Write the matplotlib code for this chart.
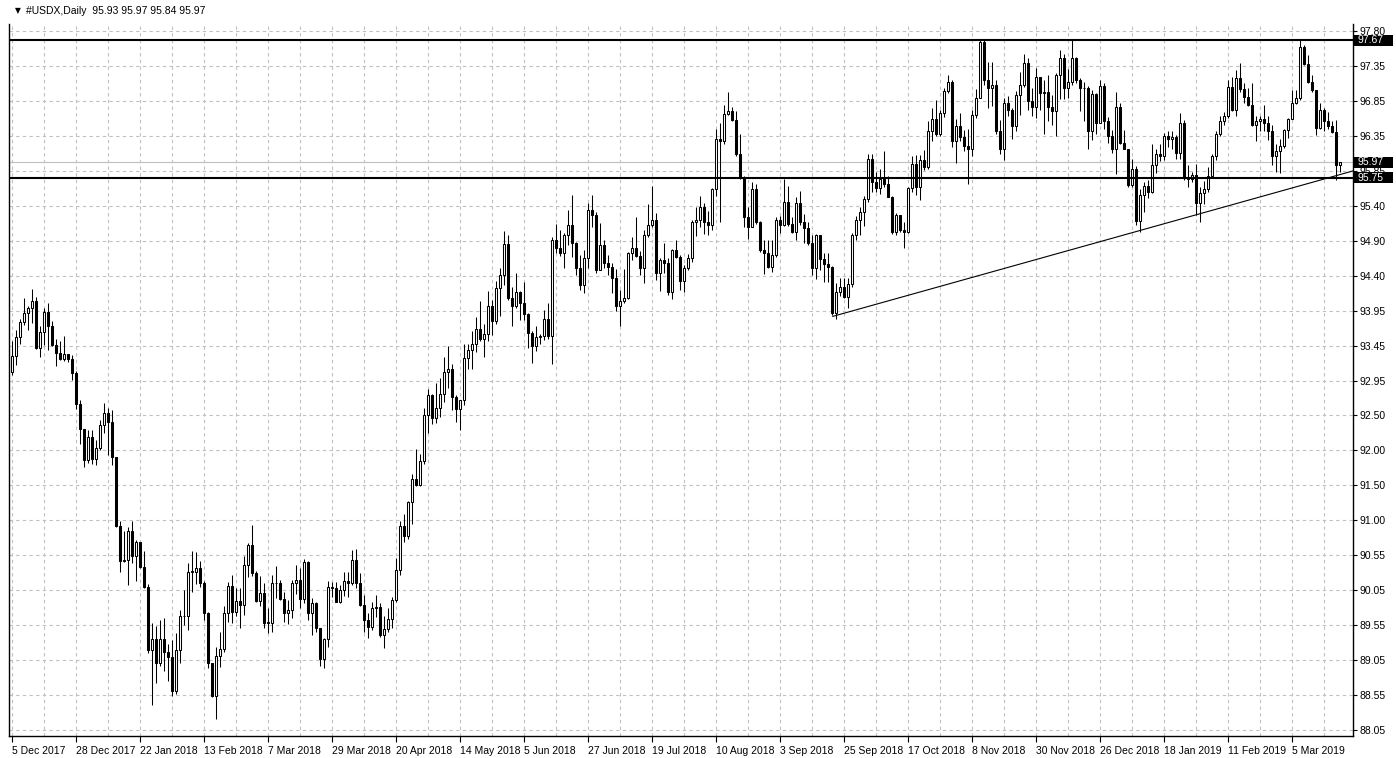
import numpy as np
import matplotlib
matplotlib.use("Agg")
import matplotlib.pyplot as plt
import matplotlib.transforms as mtransforms
from matplotlib.patches import Rectangle

plt.rcParams["font.family"] = ["Liberation Sans", "DejaVu Sans"]

# ---- data (daily #USDX bars, index 0 = 5 Dec 2017) ----
first_open = 93.05

closes = [
    93.27, 93.53, 93.74, 93.86, 93.93, 94.03, 93.38, 93.60, 93.88, 93.69,
    93.42, 93.31, 93.23, 93.29, 93.23, 93.03, 92.60, 92.25, 91.81, 92.14,
    91.83, 91.98, 92.30, 92.47, 92.34, 91.86, 90.90, 90.41, 90.42, 90.83,
    90.48, 90.67, 90.32, 90.05, 89.17, 89.32, 88.98, 89.32, 89.14, 89.07,
    88.60, 89.16, 89.64, 89.64, 90.26, 90.26, 90.31, 90.10, 89.68, 88.98,
    88.53, 89.08, 89.18, 89.68, 90.06, 89.70, 89.85, 89.79, 90.35, 90.63,
    90.24, 89.85, 89.96, 89.55, 89.55, 90.10, 90.10, 89.88, 89.68, 89.73,
    90.10, 90.15, 89.88, 90.40, 89.68, 89.82, 89.47, 89.04, 89.32, 90.05,
    90.03, 89.84, 90.00, 90.13, 90.10, 90.42, 90.10, 89.80, 89.59, 89.49,
    89.75, 89.76, 89.38, 89.46, 89.60, 89.86, 90.28, 90.89, 90.76, 91.23,
    91.55, 91.47, 91.80, 92.44, 92.72, 92.40, 92.54, 92.74, 93.04, 93.08,
    92.69, 92.53, 92.65, 93.24, 93.35, 93.44, 93.64, 93.51, 93.57, 93.96,
    93.75, 94.22, 94.40, 94.83, 94.07, 93.96, 94.16, 94.00, 93.85, 93.59,
    93.40, 93.53, 93.55, 93.79, 93.54, 94.88, 94.77, 94.71, 94.96, 95.09,
    94.85, 94.50, 94.26, 94.64, 95.30, 95.23, 94.47, 94.82, 94.56, 94.51,
    94.36, 93.96, 94.04, 94.07, 94.70, 94.77, 94.66, 94.49, 94.95, 95.09,
    95.16, 94.42, 94.61, 94.56, 94.16, 94.75, 94.65, 94.32, 94.49, 94.63,
    95.14, 95.17, 95.34, 95.14, 95.09, 95.59, 96.29, 96.26, 96.64, 96.69,
    96.56, 96.09, 95.75, 95.21, 95.06, 95.59, 95.13, 94.74, 94.70, 94.51,
    94.68, 95.16, 95.09, 95.41, 95.11, 95.00, 95.40, 95.13, 95.05, 94.84,
    94.49, 94.96, 94.62, 94.55, 94.51, 93.86, 94.16, 94.23, 94.09, 94.27,
    94.96, 95.16, 95.27, 95.45, 96.01, 95.70, 95.61, 95.73, 95.67, 95.49,
    94.99, 95.23, 95.02, 95.00, 95.61, 95.95, 95.63, 96.00, 95.91, 96.41,
    96.57, 96.37, 96.65, 96.96, 97.09, 96.26, 96.47, 96.32, 96.19, 96.16,
    96.63, 96.87, 97.65, 97.12, 97.00, 97.05, 96.40, 96.16, 96.79, 96.70,
    96.47, 96.91, 97.05, 97.35, 96.83, 96.74, 97.16, 96.93, 96.95, 96.74,
    96.68, 97.19, 97.43, 97.01, 97.09, 97.42, 97.11, 97.01, 97.00, 96.41,
    96.92, 96.52, 97.03, 96.55, 96.34, 96.15, 96.74, 96.24, 96.16, 95.65,
    95.88, 95.15, 95.51, 95.64, 95.56, 95.93, 96.08, 96.05, 96.33, 96.30,
    96.32, 96.10, 96.51, 95.77, 95.73, 95.79, 95.40, 95.54, 95.59, 95.78,
    96.06, 96.37, 96.54, 96.61, 97.02, 96.70, 97.15, 96.99, 96.88, 96.77,
    96.49, 96.55, 96.57, 96.52, 96.41, 96.05, 96.13, 96.19, 96.42, 96.57,
    96.79, 96.86, 97.57, 97.34, 97.09, 96.98, 96.45, 96.70, 96.54, 96.47,
    96.39, 95.93, 95.97,
]

highs = [
    93.47, 93.63, 93.78, 94.07, 93.96, 94.20, 94.09, 93.69, 93.93, 94.01,
    93.75, 93.51, 93.47, 93.54, 93.28, 93.28, 93.06, 92.65, 92.18, 92.23,
    92.23, 92.09, 92.37, 92.61, 92.54, 92.52, 91.86, 90.96, 90.82, 90.88,
    90.96, 90.70, 90.67, 90.55, 90.09, 89.55, 89.50, 89.59, 89.61, 89.25,
    89.31, 89.40, 89.72, 90.00, 90.38, 90.55, 90.54, 90.41, 90.13, 89.69,
    88.98, 89.21, 89.42, 89.78, 90.11, 90.21, 90.03, 90.03, 90.48, 90.66,
    90.91, 90.27, 90.20, 90.10, 89.75, 90.21, 90.34, 90.14, 89.97, 89.86,
    90.14, 90.35, 90.31, 90.43, 90.41, 89.89, 89.84, 89.46, 89.33, 90.13,
    90.12, 90.12, 90.07, 90.25, 90.26, 90.56, 90.57, 90.24, 89.93, 89.68,
    89.84, 89.93, 89.82, 89.64, 89.75, 89.91, 90.45, 90.97, 91.06, 91.24,
    91.62, 91.97, 91.90, 92.54, 92.81, 92.74, 92.89, 92.96, 93.25, 93.40,
    93.15, 92.72, 92.66, 93.44, 93.43, 93.61, 93.81, 94.03, 93.71, 94.17,
    94.05, 94.32, 94.49, 95.01, 94.95, 94.23, 94.43, 94.17, 94.30, 93.86,
    93.62, 93.68, 93.58, 93.91, 94.01, 94.92, 95.11, 95.02, 94.98, 95.30,
    95.51, 94.86, 94.68, 94.75, 95.40, 95.51, 95.28, 95.12, 94.89, 94.68,
    94.56, 94.48, 94.19, 94.48, 94.72, 94.92, 95.21, 94.73, 95.03, 95.39,
    95.64, 95.26, 94.64, 94.84, 94.64, 94.76, 94.89, 94.68, 94.54, 94.69,
    95.16, 95.35, 95.50, 95.40, 95.29, 95.61, 96.43, 96.51, 96.77, 96.95,
    96.74, 96.68, 96.37, 95.78, 95.35, 95.69, 95.67, 95.15, 94.89, 94.89,
    94.89, 95.21, 95.22, 95.73, 95.64, 95.21, 95.48, 95.57, 95.25, 95.13,
    94.96, 94.97, 94.96, 94.70, 94.70, 94.52, 94.29, 94.36, 94.36, 94.36,
    94.98, 95.22, 95.35, 95.50, 96.09, 96.08, 95.84, 95.87, 96.13, 95.78,
    95.50, 95.26, 95.22, 95.13, 95.63, 96.05, 96.07, 96.07, 96.14, 96.55,
    96.72, 96.84, 96.70, 97.00, 97.19, 97.12, 96.57, 96.65, 96.42, 96.44,
    96.70, 96.99, 97.67, 97.67, 97.37, 97.37, 97.12, 96.56, 96.86, 96.89,
    96.72, 96.96, 97.23, 97.48, 97.42, 97.00, 97.29, 97.16, 97.12, 97.19,
    96.91, 97.22, 97.54, 97.48, 97.27, 97.68, 97.44, 97.14, 97.09, 97.03,
    96.98, 96.94, 97.11, 97.07, 96.60, 96.42, 96.95, 96.80, 96.42, 96.14,
    96.02, 95.92, 95.59, 95.70, 95.72, 96.23, 96.16, 96.23, 96.38, 96.41,
    96.40, 96.35, 96.65, 96.56, 95.93, 95.84, 95.95, 95.63, 95.71, 95.91,
    96.09, 96.41, 96.61, 96.67, 97.12, 97.16, 97.25, 97.35, 97.07, 97.00,
    97.07, 96.61, 96.61, 96.77, 96.61, 96.49, 96.23, 96.30, 96.43, 96.59,
    96.98, 96.98, 97.67, 97.61, 97.47, 97.19, 96.98, 96.79, 96.72, 96.67,
    96.54, 96.56, 95.97,
]

lows = [
    93.00, 93.14, 93.44, 93.70, 93.63, 93.73, 93.37, 93.25, 93.42, 93.35,
    93.40, 93.13, 93.21, 93.20, 93.19, 92.93, 92.53, 92.04, 91.72, 91.77,
    91.76, 91.75, 91.96, 92.19, 91.89, 91.75, 90.88, 90.25, 90.40, 90.07,
    90.38, 90.13, 90.31, 90.03, 89.13, 88.40, 88.71, 88.95, 88.88, 88.74,
    88.53, 88.56, 88.99, 89.52, 89.44, 89.98, 90.09, 90.04, 89.58, 88.91,
    88.51, 88.21, 88.93, 89.14, 89.56, 89.54, 89.64, 89.47, 89.66, 90.19,
    90.20, 89.84, 89.78, 89.47, 89.40, 89.42, 89.89, 89.86, 89.56, 89.53,
    89.61, 89.95, 89.75, 89.82, 89.59, 89.38, 89.42, 88.95, 88.91, 89.21,
    89.91, 89.83, 89.82, 89.92, 89.91, 90.07, 90.03, 89.78, 89.42, 89.33,
    89.45, 89.63, 89.35, 89.20, 89.42, 89.47, 89.84, 90.21, 90.68, 90.72,
    90.93, 91.46, 91.45, 91.76, 92.19, 92.32, 92.33, 92.42, 92.62, 92.82,
    92.51, 92.34, 92.23, 92.58, 93.09, 93.09, 93.32, 93.47, 93.26, 93.48,
    93.56, 93.71, 93.82, 94.26, 94.05, 93.69, 93.93, 93.77, 93.77, 93.38,
    93.17, 93.34, 93.44, 93.49, 93.51, 93.16, 94.70, 94.66, 94.50, 94.82,
    94.65, 94.40, 94.19, 94.14, 94.50, 95.07, 94.43, 94.49, 94.50, 94.40,
    94.15, 93.89, 93.68, 94.00, 94.06, 94.61, 94.65, 94.40, 94.28, 94.92,
    95.07, 94.33, 94.18, 94.42, 94.12, 94.06, 94.64, 94.19, 94.16, 94.47,
    94.58, 94.94, 95.07, 94.97, 94.96, 95.02, 95.50, 95.13, 96.23, 96.63,
    96.54, 96.06, 95.74, 95.06, 94.90, 95.06, 95.11, 94.72, 94.41, 94.49,
    94.44, 94.65, 94.98, 95.08, 95.08, 94.98, 94.89, 95.10, 94.84, 94.82,
    94.40, 94.34, 94.47, 94.30, 94.30, 93.84, 93.78, 94.10, 94.07, 93.93,
    94.23, 94.89, 94.96, 95.08, 95.41, 95.56, 95.56, 95.53, 95.63, 95.48,
    94.97, 94.96, 95.00, 94.77, 94.98, 95.56, 95.51, 95.44, 95.86, 95.88,
    96.26, 96.33, 96.33, 96.60, 96.93, 96.18, 95.96, 96.26, 96.13, 95.66,
    96.05, 96.58, 96.94, 97.05, 96.72, 96.75, 96.37, 96.08, 96.00, 96.61,
    96.30, 96.40, 96.63, 97.02, 96.70, 96.61, 96.58, 96.70, 96.36, 96.54,
    96.49, 96.33, 96.85, 96.85, 96.86, 97.05, 97.07, 96.68, 96.54, 96.15,
    96.28, 96.36, 96.51, 96.43, 96.24, 96.10, 95.81, 96.23, 96.15, 95.63,
    95.63, 95.09, 95.00, 95.28, 95.47, 95.54, 95.82, 95.98, 96.00, 96.18,
    96.16, 96.02, 96.01, 95.72, 95.63, 95.70, 95.23, 95.13, 95.39, 95.56,
    95.75, 96.00, 96.34, 96.49, 96.58, 96.68, 96.61, 96.95, 96.80, 96.75,
    96.48, 96.27, 96.41, 96.40, 96.28, 95.93, 95.84, 95.82, 96.17, 96.31,
    96.57, 96.78, 96.84, 97.33, 97.08, 96.95, 96.35, 96.43, 96.40, 96.44,
    96.38, 95.72, 95.84,
]

date_labels = [
    "5 Dec 2017", "28 Dec 2017", "22 Jan 2018", "13 Feb 2018", "7 Mar 2018",
    "29 Mar 2018", "20 Apr 2018", "14 May 2018", "5 Jun 2018", "27 Jun 2018",
    "19 Jul 2018", "10 Aug 2018", "3 Sep 2018", "25 Sep 2018", "17 Oct 2018",
    "8 Nov 2018", "30 Nov 2018", "26 Dec 2018", "18 Jan 2019", "11 Feb 2019",
    "5 Mar 2019",
]
price_labels = [
    "97.80", "97.35", "96.85", "96.35", "95.85", "95.40", "94.90", "94.40",
    "93.95", "93.45", "92.95", "92.50", "92.00", "91.50", "91.00", "90.55",
    "90.05", "89.55", "89.05", "88.55", "88.05",
]

resistance = 97.67
support = 95.75
bid = 95.97
trend_x = [205.2, 336.0]
trend_y = [93.82, 95.86]
header = "#USDX,Daily  95.93 95.97 95.84 95.97"

# ---- figure ----
W, H = 1396, 758
fig = plt.figure(figsize=(W / 100, H / 100), dpi=100)
fig.patch.set_facecolor("white")
left, right, top, bottom = 9, 1353, 24, 736
ax = fig.add_axes([left / W, (H - bottom) / H, (right - left) / W, (bottom - top) / H])

c = np.array(closes)
o = np.r_[first_open, c[:-1]]
hi = np.array(highs)
lo = np.array(lows)
x = np.arange(len(c))

up = c >= o
ax.vlines(x, lo, hi, color="black", linewidth=0.75, zorder=3)
body_h = np.where(np.abs(c - o) < 0.004, 0.004, np.abs(c - o))
ax.bar(x, body_h, bottom=np.minimum(o, c), width=0.5,
       color=np.where(up, "white", "black"), edgecolor="black",
       linewidth=0.75, zorder=4)

# levels and trendline
ax.axhline(bid, color="#c0c0c0", linewidth=0.8, zorder=2)
ax.axhline(resistance, color="black", linewidth=1.5, zorder=5)
ax.axhline(support, color="black", linewidth=1.5, zorder=5)
ax.plot(trend_x, trend_y, color="black", linewidth=0.8, zorder=5)

# axes limits (4 px per bar, 71.7 px per point)
ax.set_xlim((left - 12) / 4, (right - 12) / 4)
ax.set_ylim(97.80 - (bottom - 31) / 71.7, 97.80 + (31 - top) / 71.7)

step = 0.4875
yt = 97.80 - step * np.arange(len(price_labels))
ax.yaxis.tick_right()
ax.set_yticks(yt)
ax.set_yticklabels(price_labels)
ax.set_xticks(np.arange(len(date_labels)) * 16)
ax.set_xticklabels(date_labels, ha="left")
ax.set_xticks(np.arange(8, 336, 16), minor=True)
ax.tick_params(axis="y", which="major", length=3, width=0.8, pad=2,
               labelsize=7.5, colors="black")
ax.tick_params(axis="x", which="major", length=4, width=0.8, pad=3,
               labelsize=7.5, colors="black")
ax.tick_params(axis="x", which="minor", length=0)
for lab in ax.get_xticklabels():
    lab.set_horizontalalignment("left")

ax.grid(True, which="both", color="#c0c0c0", linestyle=(0, (3, 3)), linewidth=0.8)
ax.set_axisbelow(True)
for side in ["left", "right", "bottom"]:
    ax.spines[side].set_color("black")
    ax.spines[side].set_linewidth(1.0)
ax.spines["top"].set_visible(False)

# highlighted price boxes on the right scale
trans = mtransforms.blended_transform_factory(ax.transAxes, ax.transData)
box_w = 39 / (right - left)
box_h = 11 / 71.7
for val in [resistance, bid, support]:
    ax.add_patch(Rectangle((1.0008, val - box_h / 2), box_w, box_h, transform=trans,
                           facecolor="black", edgecolor="none", zorder=9, clip_on=False))
    ax.text(1.0035, val, f"{val:.2f}", transform=trans, ha="left", va="center",
            fontsize=7.5, color="white", zorder=10, clip_on=False)

fig.text(15 / W, 1 - 11 / H, "\u25bc", fontsize=5.5, va="center", ha="left",
         color="black", family="DejaVu Sans")
fig.text(26 / W, 1 - 11 / H, header, fontsize=7.5, va="center", ha="left", color="black")

fig.savefig("out.png", dpi=100, facecolor="white")
